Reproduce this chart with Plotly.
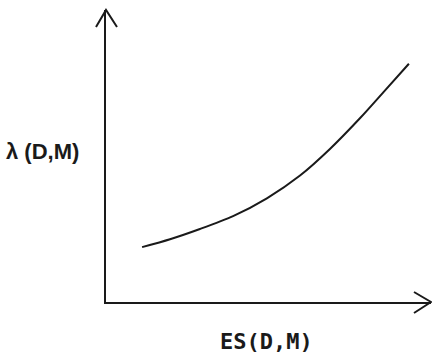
import plotly.graph_objects as go

# Curve: lambda(D,M) as a function of ES(D,M), in arbitrary units
es_values = [1.11, 1.97, 2.89, 3.91, 4.95, 5.97, 6.89, 7.82, 8.58, 9.32]
lambda_values = [1.88, 2.15, 2.50, 2.94, 3.55, 4.33, 5.24, 6.30, 7.24, 8.16]

x_label = "ES(D,M)"
y_label = "λ (D,M)"

INK = "#1a1a1a"
W, H = 432, 354
M_L, M_R, M_T, M_B = 106, 1, 10, 52

fig = go.Figure()
fig.add_trace(go.Scatter(
    x=es_values, y=lambda_values, mode="lines",
    line=dict(color=INK, width=2, shape="spline", smoothing=0.8),
    hoverinfo="skip", showlegend=False,
))

axis_common = dict(showgrid=False, zeroline=False, showticklabels=False,
                   ticks="", showline=True, linecolor=INK, linewidth=2,
                   mirror=False, fixedrange=True)
fig.update_xaxes(range=[0, 10], **axis_common)
fig.update_yaxes(range=[0, 10], **axis_common)

pw = W - M_L - M_R
ph = H - M_T - M_B


def px_to_paper(px, py):
    return (px - M_L) / pw, (H - M_B - py) / ph


def open_arrow(points):
    pts = [px_to_paper(*p) for p in points]
    path = "M {} {} L {} {} L {} {}".format(*[c for p in pts for c in p])
    return dict(type="path", xref="paper", yref="paper", path=path,
                line=dict(color=INK, width=2))


# open arrowheads at the ends of both axes
fig.add_shape(open_arrow([(96, 27), (106, 10), (117, 27)]))
fig.add_shape(open_arrow([(414, 292), (431, 302), (414, 313)]))

fig.add_annotation(text="<b>" + y_label + "</b>", xref="paper", yref="paper",
                   x=px_to_paper(4, 0)[0], y=px_to_paper(0, 152)[1],
                   xanchor="left", yanchor="middle", showarrow=False,
                   font=dict(family="Liberation Sans", size=22, color=INK))
fig.add_annotation(text="<b>" + x_label + "</b>", xref="paper", yref="paper",
                   x=px_to_paper(266, 0)[0], y=px_to_paper(0, 341)[1],
                   xanchor="center", yanchor="middle", showarrow=False,
                   font=dict(family="DejaVu Sans Mono", size=22, color=INK))

fig.update_layout(
    width=W, height=H,
    margin=dict(l=M_L, r=M_R, t=M_T, b=M_B),
    paper_bgcolor="white", plot_bgcolor="white",
)

fig.write_html("out.html")
